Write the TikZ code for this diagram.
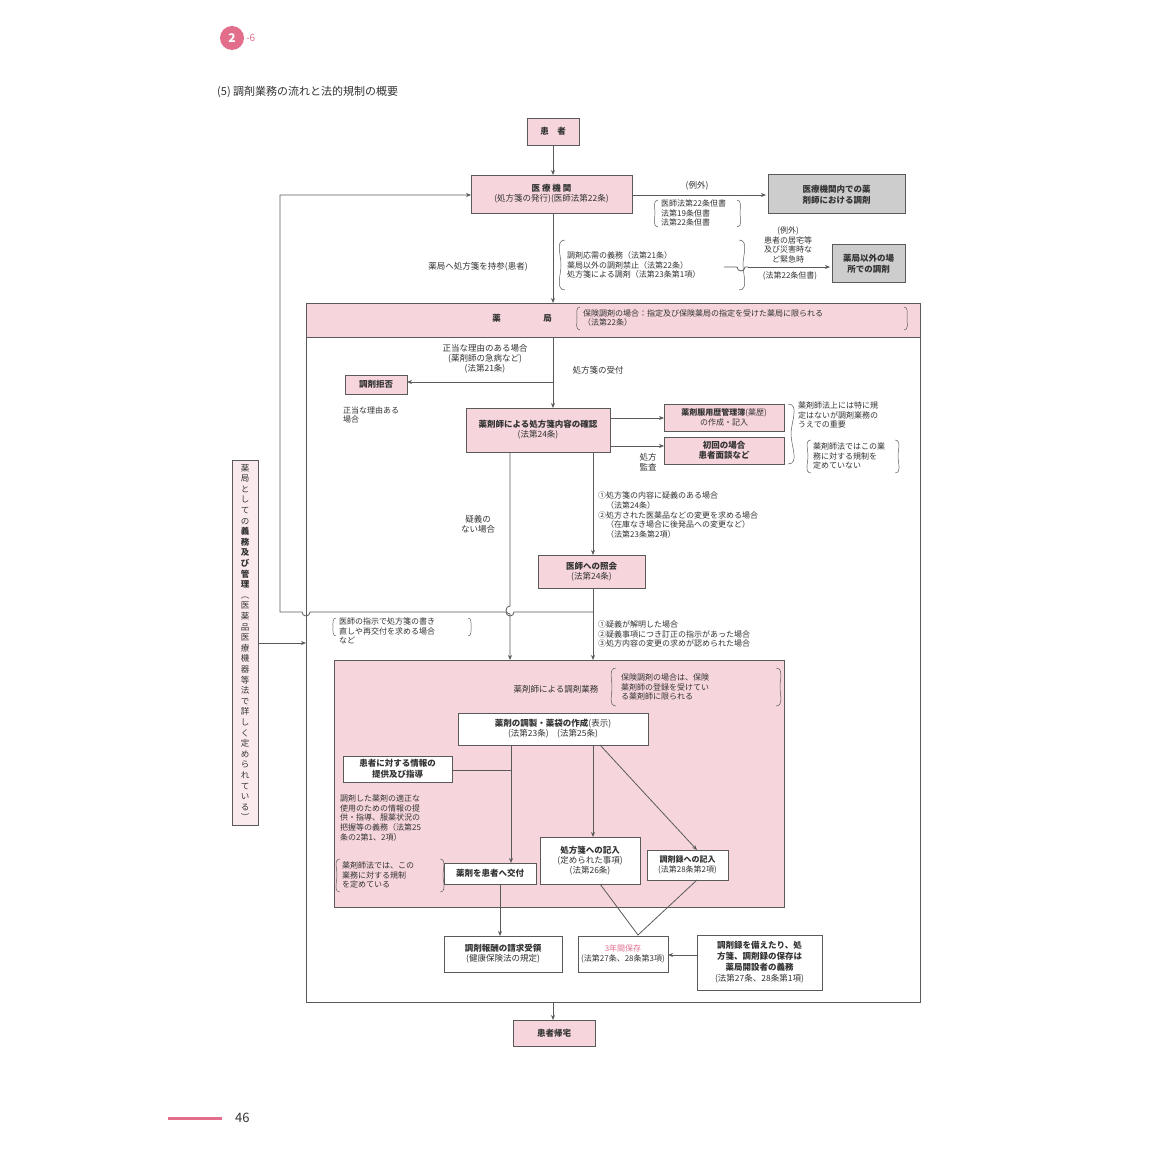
\documentclass[tikz,border=0pt]{standalone}
\usepackage{fontspec}
\setmainfont{Noto Sans CJK JP}
\usetikzlibrary{arrows.meta}
\definecolor{pk}{RGB}{246,214,220}
\definecolor{pkd}{RGB}{226,110,140}
\definecolor{gr}{RGB}{205,205,205}
\definecolor{ln}{RGB}{90,90,90}
\begin{document}
\begin{tikzpicture}[x=1pt,y=-1pt,
  every node/.style={font=\fontsize{8.5}{10}\selectfont,text=black!80,align=center,inner sep=1pt},
  bx/.style={draw=ln,fill=pk,line width=0.8pt,inner sep=0pt},
  wb/.style={draw=ln,fill=white,line width=0.8pt,inner sep=0pt},
  gb/.style={draw=ln,fill=gr,line width=1pt,inner sep=0pt},
  ar/.style={draw=ln,line width=0.8pt,-{Stealth[length=5pt,width=4pt]}},
  l/.style={draw=ln,line width=0.8pt},
  br/.style={draw=ln,line width=0.5pt},
  note/.style={align=left,anchor=west,font=\fontsize{8}{9.6}\selectfont}]
\useasboundingbox (0,0) rectangle (1150,1150);
% header
\fill[pkd] (232,38) circle (12);
\node[text=white,font=\bfseries\fontsize{12}{12}\selectfont] (bdg) at (232,38) {2};
\node[text=pkd,font=\fontsize{10}{10}\selectfont,anchor=west] (bdg2) at (245,38) {-6};
\node[anchor=west,font=\fontsize{11}{11}\selectfont] (title) at (216,92) {(5)\ 調剤業務の流れと法的規制の概要};
% top boxes
\draw[bx] (527,118) rectangle (579,145); \node[font=\bfseries\fontsize{8.5}{10}\selectfont] (kanja) at (553,131.5) {患\quad 者};
\draw[bx] (471,175) rectangle (632,213); \node (iryo) at (551.5,194) {\textbf{医\ 療\ 機\ 関}\\(処方箋の発行)(医師法第22条)};
\draw[ar] (553,145) -- (553,175);
\draw[gb] (768,175) rectangle (905,214); \node[font=\bfseries\fontsize{8.5}{11}\selectfont] (g1) at (836.5,194.5) {医療機関内での薬\\剤師における調剤};
\draw[ar] (632,195) -- (766,195);
\node (rei1) at (697,186) {(例外)};
\node[note] (n1) at (660,213) {医師法第22条但書\\法第19条但書\\法第22条但書};
\draw[br] (658,200) to[out=180,in=90] (655,213) to[out=-90,in=180] (658,227);
\draw[br] (737,200) to[out=0,in=90] (740,213) to[out=-90,in=0] (737,227);
% main vertical
\draw[ar] (553,213) -- (553,303);
\node (jisan) at (478,267) {薬局へ処方箋を持参(患者)};
\node[note] (n2) at (566,265) {調剤応需の義務（法第21条）\\薬局以外の調剤禁止（法第22条）\\処方箋による調剤（法第23条第1項）};
\draw[br] (565,240) to[out=180,in=90] (561,265) to[out=-90,in=180] (565,290);
\draw[br] (739,240) to[out=0,in=90] (743,265) to[out=-90,in=0] (739,290);
\draw[l] (724,267) -- (737,267) arc[start angle=180,end angle=0,radius=4] -- (748,267);
\draw[ar] (748,267) -- (830,267);
\node[font=\fontsize{8}{9.5}\selectfont] (rei2) at (788,245) {(例外)\\患者の居宅等\\及び災害時な\\ど緊急時};
\node[font=\fontsize{8}{9.5}\selectfont] (rei2b) at (790,276) {(法第22条但書)};
\draw[gb] (832,245) rectangle (905,282); \node[font=\bfseries\fontsize{8.5}{11}\selectfont] (g2) at (868.5,263.5) {薬局以外の場\\所での調剤};
% pharmacy box
\draw[l,line width=1pt,fill=white] (306,303) rectangle (920,1002);
\draw[bx] (306,303) rectangle (920,337);
\node[font=\bfseries\fontsize{8.5}{10}\selectfont] (yak) at (522,318) {薬\hspace{5em}局};
\node[note] (n3) at (582,318) {保険調剤の場合：指定及び保険薬局の指定を受けた薬局に限られる\\（法第22条）};
\draw[br] (580,307) to[out=180,in=90] (577,318) to[out=-90,in=180] (580,330);
\draw[br] (904,307) to[out=0,in=90] (907,318) to[out=-90,in=0] (904,330);
% inside
\draw[ar] (553,337) -- (553,408);
\draw[ar] (553,382) -- (407,382);
\node (seito) at (485,359) {正当な理由のある場合\\(薬剤師の急病など)\\(法第21条)};
\node (uketsuke) at (598,370) {処方箋の受付};
\draw[bx] (345,375) rectangle (407,394); \node[font=\bfseries\fontsize{8.5}{10}\selectfont] (kyohi) at (376,384.5) {調剤拒否};
\node[note] (n4) at (342,415) {正当な理由ある\\場合};
\draw[bx] (466,408) rectangle (610,452); \node (kakunin) at (538,430) {\textbf{薬剤師による処方箋内容の確認}\\(法第24条)};
\draw[bx] (664,404) rectangle (784,431); \node[font=\fontsize{8}{9.5}\selectfont] (yakureki) at (724,417.5) {\textbf{薬剤服用歴管理簿}(薬歴)\\の作成・記入};
\draw[bx] (664,437) rectangle (784,464); \node[font=\bfseries\fontsize{8.5}{10}\selectfont] (shokai) at (724,450.5) {初回の場合\\患者面談など};
\draw[ar] (610,418) -- (664,418);
\draw[ar] (610,446) -- (664,446);
\node (kansa) at (648,462) {処方\\監査};
\draw[br] (788,404) to[out=0,in=90] (791,434) to[out=-90,in=0] (788,464);
\node[note] (n5) at (797,415) {薬剤師法上には特に規\\定はないが調剤業務の\\うえでの重要};
\node[note] (n6) at (812,456) {薬剤師法ではこの業\\務に対する規制を\\定めていない};
\draw[br] (811,440) to[out=180,in=90] (808,456) to[out=-90,in=180] (811,473);
\draw[br] (895,440) to[out=0,in=90] (898,456) to[out=-90,in=0] (895,473);
% down lines
\node (nogi) at (478,524) {疑義の\\ない場合};
\node[note] (n7) at (597,515) {①処方箋の内容に疑義のある場合\\\quad（法第24条）\\②処方された医薬品などの変更を求める場合\\\quad（在庫なき場合に後発品への変更など）\\\quad（法第23条第2項）};
\draw[ar] (593,452) -- (593,555);
\draw[bx] (538,555) rectangle (645,588); \node (ishi) at (591.5,571.5) {\textbf{医師への照会}\\(法第24条)};
\draw[ar] (593,588) -- (593,660);
\draw[ar] (510,452) -- (510,606) arc[start angle=90,end angle=-90,radius=-4] -- (510,660);
% loop back
\draw[ar] (593,612) -- (514,612) arc[start angle=0,end angle=180,radius=4] -- (310,612) arc[start angle=0,end angle=180,radius=4] -- (280,612) -- (280,195) -- (471,195);
\node[note] (n8) at (338,631) {医師の指示で処方箋の書き\\直しや再交付を求める場合\\など};
\draw[br] (336,618) to[out=180,in=90] (333,627) to[out=-90,in=180] (336,636);
\draw[br] (468,618) to[out=0,in=90] (471,627) to[out=-90,in=0] (468,636);
\node[note] (n9) at (597,634) {①疑義が解明した場合\\②疑義事項につき訂正の指示があった場合\\③処方内容の変更の求めが認められた場合};
% left vertical
\draw[l,fill=pk!50] (232,460) rectangle (258,825);
\node[font=\fontsize{8.5}{10.6}\selectfont] (tate) at (245,642.5) {薬\\局\\と\\し\\て\\の\\\textbf{義}\\\textbf{務}\\\textbf{及}\\\textbf{び}\\\textbf{管}\\\textbf{理}\\︵\\医\\薬\\品\\医\\療\\機\\器\\等\\法\\で\\詳\\し\\く\\定\\め\\ら\\れ\\て\\い\\る\\︶};
\draw[ar] (258,643) -- (306,643);
% big pink
\draw[bx] (334,660) rectangle (784,907);
\node (gyomu) at (556,689) {薬剤師による調剤業務};
\node[note] (n10) at (620,687) {保険調剤の場合は、保険\\薬剤師の登録を受けてい\\る薬剤師に限られる};
\draw[br] (616,668) to[out=180,in=90] (612,687) to[out=-90,in=180] (616,706);
\draw[br] (776,668) to[out=0,in=90] (780,687) to[out=-90,in=0] (776,706);
\draw[wb] (458,713) rectangle (648,745); \node (chosei) at (553,729) {\textbf{薬剤の調製・薬袋の作成}(表示)\\(法第23条)\quad(法第25条)};
\draw[wb] (343,756) rectangle (452,782); \node[font=\bfseries\fontsize{8.5}{10.5}\selectfont] (joho) at (397.5,769) {患者に対する情報の\\提供及び指導};
\node[note] (n11) at (339,818) {調剤した薬剤の適正な\\使用のための情報の提\\供・指導、服薬状況の\\把握等の義務（法第25\\条の2第1、2項）};
\node[note] (n12) at (341,875) {薬剤師法では、この\\業務に対する規制\\を定めている};
\draw[br] (340,859) to[out=180,in=90] (337,875) to[out=-90,in=180] (340,892);
\draw[br] (440,859) to[out=0,in=90] (443,875) to[out=-90,in=0] (440,892);
\draw[wb] (444,863) rectangle (536,884); \node[font=\bfseries\fontsize{8.5}{10}\selectfont] (kofu) at (490,873.5) {薬剤を患者へ交付};
\draw[ar] (511,745) -- (511,863);
\draw[l] (452,770) -- (511,770);
\draw[wb] (540,837) rectangle (640,884); \node (shohosen) at (590,860.5) {\textbf{処方箋への記入}\\(定められた事項)\\(法第26条)};
\draw[ar] (593,745) -- (593,837);
\draw[wb] (647,850) rectangle (728,880); \node[font=\fontsize{8}{9.5}\selectfont] (choroku) at (687.5,865) {\textbf{調剤録への記入}\\(法第28条第2項)};
\draw[ar] (600,745) -- (697,850);
% bottom
\draw[l] (600,884) -- (638,935) -- (697,880);
\draw[wb] (578,936) rectangle (668,972); \node[font=\fontsize{8}{10}\selectfont] (hozon) at (623,954) {\textcolor{pkd}{3年間保存}\\(法第27条、28条第3項)};
\draw[ar] (500,884) -- (500,936);
\draw[wb] (444,936) rectangle (562,972); \node (hoshu) at (503,954) {\textbf{調剤報酬の請求受領}\\(健康保険法の規定)};
\draw[wb] (697,935) rectangle (822,990); \node[font=\fontsize{8.5}{11}\selectfont] (kaisetsu) at (759.5,962.5) {\textbf{調剤録を備えたり、処}\\\textbf{方箋、調剤録の保存は}\\\textbf{薬局開設者の義務}\\(法第27条、28条第1項)};
\draw[ar] (697,955) -- (668,955);
\draw[ar] (553,1002) -- (553,1020);
\draw[bx] (513,1020) rectangle (595,1046); \node[font=\bfseries\fontsize{8.5}{10}\selectfont] (kitaku) at (554,1033) {患者帰宅};
% page
\draw[pkd,line width=3pt] (168,1118) -- (222,1118);
\node[font=\fontsize{13}{13}\selectfont,anchor=west] (page) at (234,1118) {46};
\end{tikzpicture}
\end{document}
